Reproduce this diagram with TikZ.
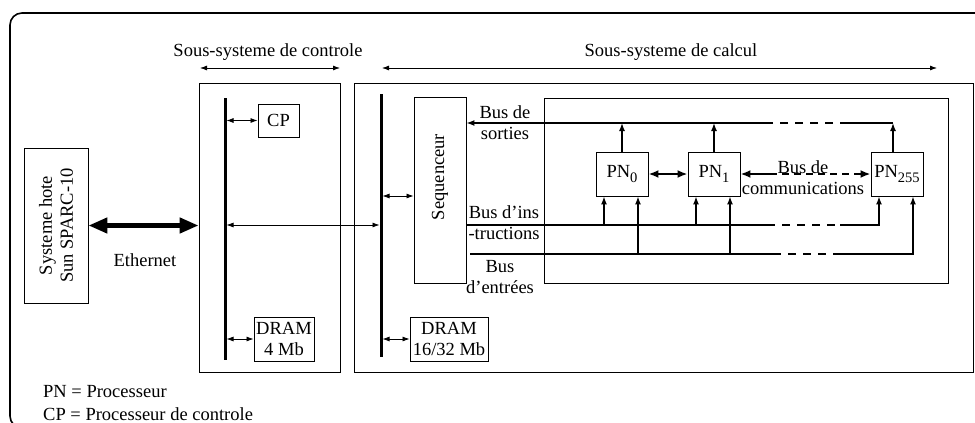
\documentclass[tikz,border=0pt]{standalone}
\usepackage{fontspec}
\setmainfont{Liberation Serif}
\usetikzlibrary{arrows.meta}
\tikzset{commtip/.tip={Latex[length=10pt,width=8pt]},
  bustip/.tip={Latex[length=8pt,width=6pt]},
  smalltip/.tip={Latex[length=7pt,width=5pt]},
  ethtip/.tip={Triangle[length=19pt,width=15pt]}}
\newcommand{\pnsub}[1]{PN\raisebox{-5pt}{\fontsize{14.5}{14.5}\selectfont #1}}
\begin{document}
\begin{tikzpicture}[x=1pt,y=-1pt,
  every node/.style={font=\fontsize{18.5}{21}\selectfont, inner sep=0pt},
  box/.style={draw, line width=0.9pt},
  lbl/.style={align=center},
  thinarrow/.style={line width=0.8pt, smalltip-smalltip},
  busline/.style={line width=1.4pt},
  upar/.style={busline, -bustip},
  dashbus/.style={busline, dash pattern=on 8pt off 7pt},
  mainbus/.style={line width=3pt},
  comm/.style={line width=2pt},
]
\useasboundingbox (0,0) rectangle (975,423);
\clip (0,0) rectangle (975,423);
% outer frame
\draw[line width=1.6pt, rounded corners=12pt] (10,13) rectangle (995,428);

% host (rotated node: its south anchor is the right side)
\node[box, rotate=90, lbl, minimum width=155pt, minimum height=64pt] (host) at (56,225.5) {Systeme hote\\Sun SPARC-10};

% subsystem boxes
\node[box, minimum width=141pt, minimum height=289pt] (ctrl) at (269.5,227.5) {};
\node[box, minimum width=619pt, minimum height=289pt] (calc) at (663.5,227.5) {};

% Ethernet
\draw[line width=4.5pt, ethtip-ethtip] (host.south) -- (host.south -| ctrl.west);
\node (eth) at (145,260) {Ethernet};

% headers
\node (hctrl) at (268,52) {Sous-systeme de controle};
\coordinate (hcl) at (200,68);
\coordinate (hcr) at (340,68);
\draw[thinarrow] (hcl) -- (hcr);
\node (hcalc) at (671,52) {Sous-systeme de calcul};
\coordinate (hkl) at (382,68);
\coordinate (hkr) at (937,68);
\draw[thinarrow] (hkl) -- (hkr);

% main buses
\coordinate (cbt) at (225,98);
\coordinate (cbb) at (225,360);
\draw[mainbus] (cbt) -- (cbb);
\coordinate (kbt) at (381,94);
\coordinate (kbb) at (381,357);
\draw[mainbus] (kbt) -- (kbb);

% control subsystem
\node[box, minimum width=41pt, minimum height=33pt] (cp) at (278.5,120.5) {CP};
\draw[thinarrow, shorten <=1.5pt] (cp.west -| cbt) -- (cp.west);
\node[box, lbl, minimum width=60pt, minimum height=44pt] (dram1) at (284,339) {DRAM\\4 Mb};
\draw[thinarrow, shorten <=1.5pt] (dram1.west -| cbt) -- (dram1.west);
\coordinate (hl) at (0,225);
\draw[thinarrow, shorten <=1.5pt, shorten >=1.5pt] (cbt |- hl) -- (kbt |- hl);

% calc subsystem
\node[box, lbl, minimum width=78pt, minimum height=44pt] (dram2) at (449,339) {DRAM\\16/32 Mb};
\draw[thinarrow, shorten <=1.5pt] (dram2.west -| kbt) -- (dram2.west);
% sequencer (rotated: north = left side, south = right side)
\node[box, rotate=90, minimum width=186pt, minimum height=52pt] (seq) at (440,190) {\hspace*{26pt}Sequenceur};
\coordinate (sq) at (0,196);
\draw[thinarrow, shorten <=1.5pt] (kbt |- sq) -- (seq.north |- sq);

\node[box, minimum width=404pt, minimum height=185pt] (inner) at (746,190.5) {};

\node[box, minimum width=52pt, minimum height=44pt] (pn0) at (622,174) {\pnsub{0}};
\node[box, minimum width=52pt, minimum height=44pt] (pn1) at (714,174) {\pnsub{1}};
\node[box, minimum width=52pt, minimum height=44pt] (pn255) at (897,174) {\pnsub{255}};

% output bus
\coordinate (so) at (0,123);
\coordinate (so255) at ([xshift=-4pt]pn255.north);
\draw[upar] (pn0.north) -- (pn0.north |- so);
\draw[upar] (pn1.north) -- (pn1.north |- so);
\draw[upar] (so255) -- (so255 |- so);
\coordinate (sod1) at (848,123);
\coordinate (sod2) at (765,123);
\draw[busline] (so255 |- so) -- (sod1);
\draw[dashbus] (sod1) -- (sod2);
\draw[busline, -bustip] (sod2) -- (seq.south |- so);
\node[lbl] (lso) at (505,123) {Bus de\\sorties};

% instruction bus
\coordinate (ib) at (0,225);
\coordinate (ibd1) at (767,225);
\coordinate (ibd2) at (840,225);
\draw[busline] (seq.south |- ib) -- (ibd1);
\draw[dashbus] (ibd1) -- (ibd2);
\draw[upar] (ibd2) -- ([xshift=-18pt]pn255.south |- ib) -- ([xshift=-18pt]pn255.south);
\draw[upar] ([xshift=-18pt]pn0.south |- ib) -- ([xshift=-18pt]pn0.south);
\draw[upar] ([xshift=-18pt]pn1.south |- ib) -- ([xshift=-18pt]pn1.south);
\node[lbl] (lins) at (504,222.5) {Bus d’ins\\-tructions};

% input bus
\coordinate (inb0) at (470,254);
\coordinate (inbd1) at (773,254);
\coordinate (inbd2) at (833,254);
\draw[busline] (inb0) -- (inbd1);
\draw[dashbus] (inbd1) -- (inbd2);
\draw[upar] (inbd2) -- ([xshift=16pt]pn255.south |- inb0) -- ([xshift=16pt]pn255.south);
\draw[upar] ([xshift=16pt]pn0.south |- inb0) -- ([xshift=16pt]pn0.south);
\draw[upar] ([xshift=16pt]pn1.south |- inb0) -- ([xshift=16pt]pn1.south);
\node[lbl] (lent) at (500,277.5) {Bus\\d’entrées};

% communication bus
\draw[comm, commtip-commtip] (pn0.east) -- (pn1.west);
\coordinate (cm) at ([xshift=30pt]pn1.east);
\draw[comm, commtip-] (pn1.east) -- (cm);
\draw[comm, dash pattern=on 7pt off 5pt, -commtip] (cm) -- (pn255.west);
\node[lbl] (lcom) at (803,177.5) {Bus de\\communications};

% legend
\node[anchor=west] (leg1) at (43,392) {PN = Processeur};
\node[anchor=west] (leg2) at (43,414) {CP = Processeur de controle};
\end{tikzpicture}
\end{document}
